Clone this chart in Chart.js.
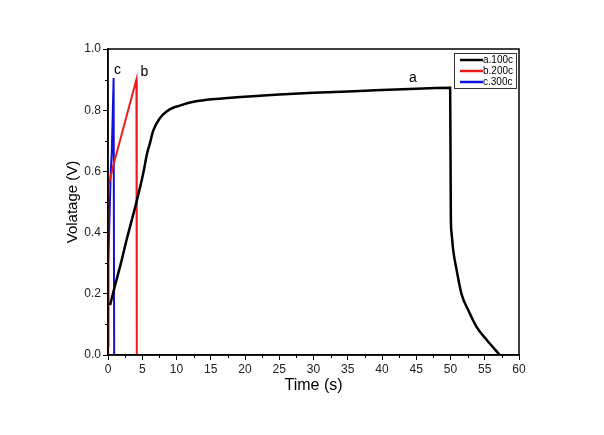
<!DOCTYPE html>
<html lang="en">
<head>
    <meta charset="UTF-8">
    <title>Charge-discharge</title>
    <script src="https://cdn.jsdelivr.net/npm/chart.js"></script>
    <style>
        body { margin: 0; background: #fff; }
        #wrap { width: 604px; height: 435px; }
    </style>
</head>
<body>
    <div id="wrap"><canvas id="myChart" width="604" height="435"></canvas></div>

    <script>
        // curve a (100c)
        const aTime = [0.3, 1, 2, 2.7, 4.1, 4.7, 5.2, 5.7, 6.1, 6.6, 7.6, 8.5, 9.5, 10.5, 12, 14.4, 17, 19.3, 22.2, 25, 30, 36.8, 42, 46, 49.95, 50.05, 50.15, 50.4, 50.9, 51.6, 52.6, 53.8, 55.3, 57.2];
        const aVolt = [0.163, 0.225, 0.31, 0.375, 0.495, 0.55, 0.60, 0.658, 0.69, 0.733, 0.775, 0.795, 0.808, 0.815, 0.825, 0.834, 0.839, 0.843, 0.847, 0.851, 0.857, 0.863, 0.868, 0.871, 0.873, 0.45, 0.40, 0.342, 0.277, 0.20, 0.146, 0.092, 0.049, 0.0];
        // curve b (200c)
        const bTime = [0, 0.02, 0.9, 4.15, 4.2, 4.2];
        const bVolt = [0.0, 0.55, 0.63, 0.90, 0.5, 0.0];
        // curve c (300c)
        const cTime = [0, 0.05, 0.4, 0.55, 0.82, 0.9];
        const cVolt = [0.03, 0.3, 0.6, 0.66, 0.905, 0.0];

        const seriesNames = ['a.100c', 'b.200c', 'c.300c'];
        const seriesColors = ['#000000', '#ee1c1c', '#1010dd'];
        const curveTags = [['a', 44.5, 0.905], ['b', 5.3, 0.925], ['c', 1.4, 0.93]];

        const xTicks = [0, 5, 10, 15, 20, 25, 30, 35, 40, 45, 50, 55, 60];
        const yTicks = [0.0, 0.2, 0.4, 0.6, 0.8, 1.0];

        function pts(xs, ys) {
            return xs.map((x, i) => ({ x: x, y: ys[i] }));
        }

        const FONT = 'Liberation Sans, Arial, sans-serif';

        // frame, minor ticks, curve tags and boxed legend
        const decor = {
            id: 'decor',
            afterDraw(chart) {
                const ctx = chart.ctx;
                const ca = chart.chartArea;
                const xs = chart.scales.x, ys = chart.scales.y;
                ctx.save();
                ctx.strokeStyle = '#000';
                ctx.lineWidth = 1.5;
                ctx.strokeRect(ca.left, ca.top, ca.right - ca.left, ca.bottom - ca.top);

                ctx.lineWidth = 1;
                ctx.beginPath();
                for (let i = 0; i < xTicks.length - 1; i++) {
                    const px = Math.round(xs.getPixelForValue((xTicks[i] + xTicks[i + 1]) / 2)) + 0.5;
                    ctx.moveTo(px, ca.bottom);
                    ctx.lineTo(px, ca.bottom + 3);
                }
                for (let i = 0; i < yTicks.length - 1; i++) {
                    const py = Math.round(ys.getPixelForValue((yTicks[i] + yTicks[i + 1]) / 2)) + 0.5;
                    ctx.moveTo(ca.left, py);
                    ctx.lineTo(ca.left - 3, py);
                }
                ctx.stroke();

                ctx.fillStyle = '#000';
                ctx.font = '14px ' + FONT;
                ctx.textAlign = 'center';
                ctx.textBaseline = 'middle';
                curveTags.forEach(t => {
                    ctx.fillText(t[0], xs.getPixelForValue(t[1]), ys.getPixelForValue(t[2]));
                });

                // legend box
                const bx = 454, by = 53, bw = 62, bh = 35;
                ctx.fillStyle = '#fff';
                ctx.fillRect(bx, by, bw, bh);
                ctx.lineWidth = 1;
                ctx.strokeStyle = '#333';
                ctx.strokeRect(bx + 0.5, by + 0.5, bw, bh);
                ctx.font = '10px ' + FONT;
                ctx.textAlign = 'left';
                seriesNames.forEach((n, i) => {
                    const yy = by + 7 + i * 11;
                    ctx.strokeStyle = seriesColors[i];
                    ctx.lineWidth = 2.5;
                    ctx.beginPath();
                    ctx.moveTo(bx + 6, yy);
                    ctx.lineTo(bx + 29, yy);
                    ctx.stroke();
                    ctx.fillStyle = '#000';
                    ctx.fillText(n, bx + 29, yy);
                });
                ctx.restore();
            }
        };

        const ctx = document.getElementById('myChart').getContext('2d');
        new Chart(ctx, {
            type: 'scatter',
            data: {
                datasets: [
                    { label: seriesNames[0], data: pts(aTime, aVolt), borderColor: seriesColors[0], borderWidth: 2.5, cubicInterpolationMode: 'monotone' },
                    { label: seriesNames[1], data: pts(bTime, bVolt), borderColor: seriesColors[1], borderWidth: 2, tension: 0 },
                    { label: seriesNames[2], data: pts(cTime, cVolt), borderColor: seriesColors[2], borderWidth: 2, tension: 0 }
                ].map(d => Object.assign(d, { showLine: true, pointRadius: 0, fill: false }))
            },
            options: {
                responsive: false,
                animation: false,
                layout: { padding: { left: 60, top: 49, right: 85, bottom: 40 } },
                plugins: { legend: { display: false }, tooltip: { enabled: false } },
                scales: {
                    x: {
                        type: 'linear', min: 0, max: 60,
                        afterBuildTicks: s => { s.ticks = xTicks.map(v => ({ value: v })); },
                        afterFit: s => { s.height = 40; },
                        grid: { drawOnChartArea: false, tickLength: 5, tickColor: '#000', tickWidth: 1 },
                        border: { color: '#000', width: 1.5 },
                        ticks: { color: '#222', font: { family: FONT, size: 12 }, padding: 2, maxRotation: 0 },
                        title: { display: true, text: 'Time (s)', color: '#000', font: { family: FONT, size: 16 }, padding: { top: 0, bottom: 0 } }
                    },
                    y: {
                        min: 0, max: 1,
                        afterBuildTicks: s => { s.ticks = yTicks.map(v => ({ value: v })); },
                        afterFit: s => { s.width = 48; },
                        grid: { drawOnChartArea: false, tickLength: 5, tickColor: '#000', tickWidth: 1 },
                        border: { color: '#000', width: 1.5 },
                        ticks: { color: '#222', font: { family: FONT, size: 12 }, padding: 2, callback: v => v.toFixed(1) },
                        title: { display: true, text: 'Volatage (V)', color: '#000', font: { family: FONT, size: 15 }, padding: { top: 4, bottom: 2 } }
                    }
                }
            },
            plugins: [decor]
        });
    </script>
</body>
</html>
